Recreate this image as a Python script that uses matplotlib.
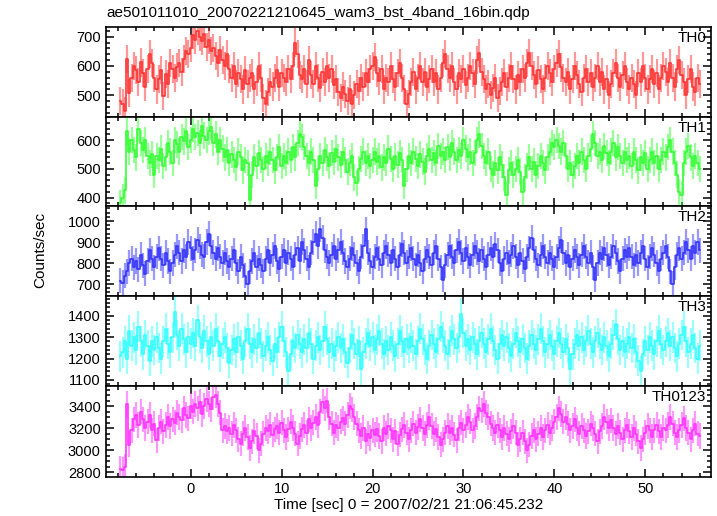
import numpy as np
import matplotlib
matplotlib.use("Agg")
import matplotlib.pyplot as plt
from matplotlib.ticker import MultipleLocator

plt.rcParams['font.family'] = ['Liberation Sans', 'DejaVu Sans']

# 16-bin (0.25 s) light curves, first bin centre at -7.75 s
t0 = -7.75
dt = 0.25

th0 = [480, 472, 445, 625, 508, 560, 600, 585, 545, 612, 575, 530, 590, 640, 610, 560,
       520, 555, 585, 498, 572, 540, 610, 590, 560, 595, 610, 580, 625, 650, 640, 660,
       705, 690, 720, 700, 685, 710, 665, 690, 650, 660, 635, 610, 655, 620, 600, 640,
       590, 560, 600, 540, 575, 555, 520, 585, 540, 560, 575, 520, 545, 600, 560, 490,
       470, 510, 545, 530, 560, 585, 530, 575, 560, 545, 590, 555, 600, 680, 640, 570,
       555, 590, 540, 620, 570, 540, 600, 560, 525, 580, 545, 600, 560, 590, 535, 555,
       510, 490, 530, 505, 480, 520, 470, 500, 540, 515, 560, 530, 575, 545, 590, 600,
       630, 575, 550, 590, 520, 560, 545, 600, 555, 530, 575, 610, 560, 520, 470, 505,
       545, 580, 520, 560, 600, 545, 580, 530, 555, 590, 545, 575, 520, 560, 610, 640,
       590, 560, 600, 545, 520, 575, 555, 590, 535, 560, 600, 575, 540, 620, 645, 580,
       555, 520, 540, 500, 525, 560, 490, 515, 545, 575, 530, 560, 600, 555, 520, 570,
       545, 590, 560, 610, 645, 600, 570, 540, 585, 555, 520, 560, 600, 575, 545, 590,
       610, 640, 595, 560, 545, 580, 520, 555, 600, 570, 540, 510, 560, 590, 545, 575,
       530, 560, 600, 545, 580, 520, 555, 500, 540, 575, 610, 560, 530, 570, 600, 545,
       520, 560, 540, 500, 575, 545, 600, 560, 520, 555, 590, 540, 575, 520, 560, 600,
       580, 545, 610, 560, 530, 590, 620, 570, 545, 500, 555, 590, 530, 510, 560, 540]

th1 = [382, 400, 425, 630, 560, 600, 565, 540, 640, 590, 565, 600, 545, 520, 550, 480,
       545, 530, 570, 510, 540, 590, 560, 520, 600, 585, 560, 610, 595, 630, 575, 600,
       640, 610, 625, 590, 650, 615, 600, 630, 645, 590, 620, 560, 600, 570, 540, 565,
       520, 550, 530, 505, 560, 540, 495, 530, 520, 390, 480, 540, 510, 555, 530, 500,
       545, 520, 560, 530, 495, 540, 575, 510, 545, 520, 560, 530, 575, 540, 590, 620,
       610, 575, 545, 520, 560, 530, 440, 500, 545, 520, 565, 540, 510, 555, 525, 570,
       540, 515, 560, 530, 490, 520, 545, 470, 450, 500, 535, 560, 520, 545, 510, 530,
       560, 525, 545, 505, 540, 520, 570, 535, 500, 545, 515, 555, 530, 440, 500, 545,
       520, 560, 535, 510, 550, 525, 490, 545, 570, 530, 555, 520, 580, 545, 560, 530,
       575, 540, 590, 560, 530, 565, 545, 600, 570, 540, 560, 520, 555, 600, 620, 580,
       545, 520, 560, 500, 480, 520, 495, 540, 515, 470, 410, 495, 520, 480, 500, 530,
       490, 420, 470, 510, 540, 500, 525, 480, 510, 545, 520, 495, 540, 560, 590, 575,
       600, 580, 560, 590, 545, 500, 520, 480, 510, 545, 520, 560, 530, 500, 545, 570,
       620, 590, 545, 560, 530, 580, 555, 520, 560, 590, 540, 575, 545, 520, 560, 530,
       545, 510, 560, 530, 495, 540, 520, 555, 500, 530, 560, 520, 545, 500, 530, 560,
       540, 575, 600, 560, 520, 480, 420, 410, 520, 560, 580, 540, 510, 545, 520, 500]

th2 = [715, 705, 740, 760, 800, 820, 780, 810, 770, 840, 790, 750, 810, 860, 820, 780,
       830, 870, 820, 790, 850, 810, 760, 800, 840, 880, 850, 810, 860, 830, 900, 870,
       820, 860, 910, 880, 840, 830, 900, 940, 880, 850, 820, 870, 830, 800, 850, 810,
       780, 820, 860, 800, 760, 830, 790, 740, 700, 760, 810, 850, 780, 820, 790, 760,
       820, 860, 800, 840, 880, 810, 770, 830, 860, 800, 850, 820, 780, 840, 870, 810,
       900, 860, 820, 780, 850, 900, 940, 880, 960, 920, 860, 830, 800, 840, 880, 820,
       860, 900, 850, 810, 780, 820, 870, 840, 800, 760, 830, 880, 960, 850, 810, 780,
       830, 870, 820, 790, 850, 880, 840, 800, 860, 820, 780, 840, 890, 850, 800, 830,
       870, 820, 790, 840, 800, 760, 820, 860, 830, 790, 850, 880, 820, 780, 720, 790,
       840, 880, 830, 800, 860, 900, 850, 810, 870, 830, 790, 840, 880, 850, 810, 860,
       820, 780, 840, 870, 830, 890, 860, 800, 760, 820, 850, 800, 840, 880, 830, 790,
       850, 810, 770, 830, 870, 920, 860, 820, 790, 840, 880, 830, 800, 850, 820, 780,
       830, 870, 910, 850, 800, 840, 780, 820, 860, 830, 790, 840, 880, 830, 800, 850,
       780, 720, 800, 850, 820, 870, 840, 790, 830, 880, 850, 810, 760, 820, 860, 830,
       870, 830, 790, 840, 800, 850, 880, 820, 780, 830, 870, 840, 800, 760, 820, 850,
       880, 830, 760, 700, 780, 840, 870, 820, 850, 900, 860, 820, 880, 850, 900, 860]

th3 = [1210, 1230, 1280, 1200, 1330, 1260, 1300, 1240, 1350, 1280, 1220, 1310, 1260, 1190, 1280, 1240,
       1300, 1250, 1200, 1280, 1340, 1270, 1230, 1300, 1420, 1310, 1260, 1340, 1290, 1230, 1300, 1270,
       1320, 1260, 1380, 1300, 1250, 1330, 1280, 1220, 1300, 1260, 1340, 1280, 1210, 1270, 1300, 1250,
       1180, 1240, 1290, 1230, 1300, 1260, 1200, 1280, 1340, 1270, 1230, 1290, 1250, 1320, 1270, 1210,
       1260, 1300, 1240, 1190, 1270, 1230, 1300, 1350, 1280, 1230, 1140, 1220, 1280, 1250, 1310, 1270,
       1230, 1290, 1250, 1320, 1270, 1200, 1260, 1300, 1240, 1280, 1350, 1290, 1230, 1270, 1210, 1260,
       1300, 1250, 1290, 1230, 1180, 1250, 1310, 1270, 1220, 1280, 1150, 1230, 1270, 1320, 1260, 1300,
       1240, 1290, 1330, 1270, 1220, 1280, 1240, 1300, 1260, 1210, 1270, 1330, 1280, 1230, 1290, 1250,
       1300, 1260, 1220, 1280, 1340, 1290, 1240, 1200, 1260, 1310, 1270, 1230, 1290, 1350, 1300, 1260,
       1220, 1280, 1330, 1290, 1250, 1300, 1410, 1320, 1260, 1290, 1240, 1300, 1270, 1220, 1280, 1320,
       1270, 1230, 1290, 1340, 1280, 1240, 1200, 1270, 1310, 1260, 1300, 1250, 1210, 1270, 1320, 1280,
       1230, 1290, 1250, 1200, 1260, 1310, 1270, 1240, 1290, 1340, 1280, 1230, 1270, 1310, 1260, 1220,
       1280, 1320, 1270, 1230, 1290, 1250, 1150, 1220, 1270, 1310, 1260, 1300, 1240, 1280, 1330, 1270,
       1230, 1280, 1320, 1270, 1240, 1300, 1260, 1210, 1270, 1310, 1360, 1290, 1240, 1280, 1230, 1270,
       1300, 1250, 1290, 1230, 1190, 1140, 1220, 1280, 1240, 1300, 1260, 1220, 1280, 1330, 1270, 1240,
       1280, 1320, 1260, 1300, 1250, 1210, 1270, 1310, 1350, 1280, 1230, 1270, 1310, 1250, 1200, 1260]

th0123 = [2830, 2820, 2850, 3420, 3050, 3180, 3280, 3320, 3230, 3350, 3280, 3200, 3260, 3320, 3180, 3240,
          3090, 3200, 3260, 3170, 3230, 3300, 3220, 3280, 3250, 3340, 3300, 3270, 3380, 3320, 3290, 3400,
          3350, 3420, 3380, 3440, 3330, 3400, 3460, 3420, 3370, 3480, 3500, 3420, 3340, 3180, 3220, 3170,
          3200, 3150, 3230, 3180, 3100, 3060, 3150, 3200, 3120, 3020, 3080, 3170, 3130, 3000, 3060, 3150,
          3200, 3170, 3230, 3140, 3190, 3220, 3160, 3250, 3180, 3120, 3190, 3260, 3200, 3150, 3060, 3130,
          3190, 3230, 3160, 3280, 3200, 3250, 3300, 3230, 3350, 3440, 3380, 3450, 3300, 3240, 3160, 3230,
          3200, 3260, 3290, 3240, 3320, 3400, 3370, 3300, 3240, 3180, 3130, 3200, 3080, 3150, 3110, 3180,
          3140, 3190, 3130, 3080, 3200, 3150, 3220, 3180, 3100, 3170, 3060, 3140, 3190, 3230, 3160, 3100,
          3180, 3240, 3160, 3210, 3280, 3200, 3150, 3230, 3300, 3220, 3150, 3190, 3120, 3050, 3100, 3160,
          3220, 3160, 3200, 3140, 3090, 3200, 3250, 3180, 3230, 3300, 3260, 3180, 3220, 3300, 3380, 3360,
          3420, 3340, 3300, 3240, 3200, 3160, 3230, 3180, 3120, 3200, 3150, 3100, 3170, 3220, 3160, 3050,
          3100, 3160, 3080, 3000, 3050, 3130, 3180, 3100, 3150, 3200, 3120, 3180, 3230, 3160, 3200, 3260,
          3300, 3380, 3330, 3260, 3300, 3240, 3180, 3220, 3280, 3200, 3150, 3220, 3180, 3130, 3170, 3240,
          3200, 3150, 3080, 3170, 3220, 3300, 3260, 3200, 3270, 3200, 3150, 3220, 3160, 3100, 3180, 3230,
          3170, 3120, 3200, 3150, 3080, 3020, 3100, 3160, 3220, 3180, 3120, 3180, 3230, 3170, 3120, 3200,
          3180, 3230, 3300, 3240, 3160, 3120, 3180, 3230, 3290, 3200, 3160, 3100, 3180, 3240, 3150, 3130]

names = ["TH0", "TH1", "TH2", "TH3", "TH0123"]
series = [th0, th1, th2, th3, th0123]
errs = [48, 46, 60, 72, 115]          # typical half-length of the error bars
colors = ["#ff3535", "#35ff35", "#3535ff", "#35ffff", "#ff35ff"]
ylims = [(427, 732), (372, 681), (643, 1073), (1073, 1493), (2760, 3585)]
major = [100, 100, 100, 100, 200]
minor = [20, 20, 20, 20, 50]

fig = plt.figure(figsize=(7.17, 5.16), dpi=100)
edges = [0.9471, 0.7738, 0.6014, 0.4264, 0.2525, 0.0762]
left, width = 0.1474, 0.8438

for i in range(5):
    y = np.array(series[i], dtype=float)
    t = t0 + dt * np.arange(len(y))
    ax = fig.add_axes([left, edges[i + 1], width, edges[i] - edges[i + 1]])
    ax.errorbar(t, y, yerr=errs[i], fmt="none", ecolor=colors[i], elinewidth=1.6, alpha=0.5)
    ax.step(t, y, where="mid", color=colors[i], lw=1.2)
    ax.set_xlim(-9.35, 57.2)
    ax.set_ylim(*ylims[i])
    ax.xaxis.set_major_locator(MultipleLocator(10))
    ax.xaxis.set_minor_locator(MultipleLocator(2))
    ax.yaxis.set_major_locator(MultipleLocator(major[i]))
    ax.yaxis.set_minor_locator(MultipleLocator(minor[i]))
    ax.tick_params(which="both", direction="in", top=True, right=True, labelsize=10.5, width=1.1)
    ax.tick_params(which="major", length=6)
    ax.tick_params(which="minor", length=3)
    for s in ax.spines.values():
        s.set_linewidth(1.2)
    if i < 4:
        ax.tick_params(labelbottom=False)
    ax.text(0.993, 0.955, names[i], transform=ax.transAxes, ha="right", va="top", fontsize=11)

ax.set_xlabel("Time [sec] 0 = 2007/02/21 21:06:45.232", fontsize=11, labelpad=2)
fig.text(0.056, 0.515, "Counts/sec", rotation=90, ha="center", va="center", fontsize=11)
fig.text(0.149, 0.968, "ae501011010_20070221210645_wam3_bst_4band_16bin.qdp", ha="left", va="baseline", fontsize=11)

fig.savefig("out.png", dpi=100)
